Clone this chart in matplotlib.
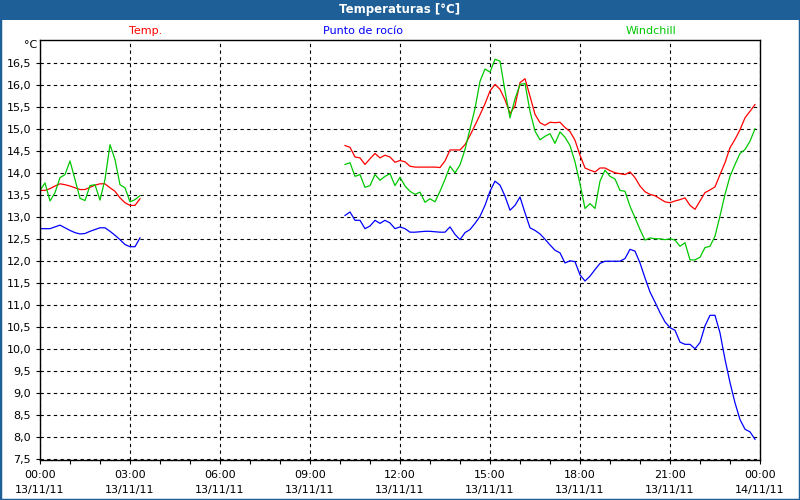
import numpy as np
import pandas as pd
import matplotlib
matplotlib.use('Agg')
import matplotlib.pyplot as plt
import matplotlib.dates as mdates
from matplotlib.patches import Rectangle
from matplotlib.ticker import FuncFormatter

# 10 minute readings, two recorded stretches
seg1_start = '2011-11-13 00:00'
seg2_start = '2011-11-13 10:10'

temp_1 = [13.60, 13.60, 13.64, 13.70, 13.75, 13.73, 13.70, 13.66, 13.62, 13.62, 13.67,
          13.72, 13.75, 13.75, 13.66, 13.58, 13.43, 13.32, 13.26, 13.26, 13.41]
dew_1 = [12.73, 12.73, 12.73, 12.77, 12.81, 12.75, 12.69, 12.64, 12.61, 12.62, 12.67,
         12.71, 12.75, 12.75, 12.67, 12.58, 12.48, 12.37, 12.32, 12.32, 12.52]
wind_1 = [13.60, 13.77, 13.36, 13.55, 13.89, 13.96, 14.27, 13.85, 13.42, 13.37, 13.71,
          13.73, 13.38, 13.85, 14.64, 14.30, 13.73, 13.66, 13.34, 13.39, 13.48]

temp_2 = [14.62, 14.58, 14.36, 14.34, 14.19, 14.32, 14.44, 14.34, 14.40, 14.36,
          14.24, 14.28, 14.25, 14.15, 14.13, 14.13, 14.13, 14.13, 14.13, 14.12,
          14.27, 14.52, 14.52, 14.52, 14.64, 14.85, 15.08, 15.32, 15.57, 15.86,
          16.01, 15.90, 15.66, 15.35, 15.52, 16.05, 16.14, 15.74, 15.33, 15.14,
          15.08, 15.15, 15.14, 15.15, 15.03, 14.94, 14.74, 14.40, 14.11, 14.06,
          14.02, 14.11, 14.11, 14.05, 14.00, 13.98, 13.96, 14.02, 13.89, 13.70,
          13.57, 13.51, 13.48, 13.41, 13.34, 13.32, 13.36, 13.39, 13.43, 13.26,
          13.17, 13.36, 13.55, 13.61, 13.68, 13.96, 14.23, 14.57, 14.76, 14.98,
          15.25, 15.40, 15.55]
wind_2 = [14.19, 14.23, 13.92, 13.96, 13.67, 13.71, 13.96, 13.83, 13.92, 13.98,
          13.71, 13.90, 13.70, 13.58, 13.51, 13.56, 13.33, 13.41, 13.34, 13.58,
          13.85, 14.15, 14.00, 14.18, 14.53, 15.00, 15.46, 16.08, 16.36, 16.29,
          16.58, 16.54, 15.86, 15.25, 15.68, 16.01, 16.03, 15.40, 14.95, 14.75,
          14.83, 14.89, 14.67, 14.93, 14.81, 14.62, 14.25, 13.75, 13.19, 13.30,
          13.19, 13.81, 14.06, 13.92, 13.86, 13.60, 13.58, 13.24, 12.98, 12.71,
          12.47, 12.52, 12.50, 12.50, 12.48, 12.50, 12.47, 12.33, 12.41, 12.02,
          12.02, 12.08, 12.30, 12.33, 12.56, 13.02, 13.51, 13.92, 14.19, 14.44,
          14.53, 14.72, 15.00]
dew_2 = [13.03, 13.11, 12.92, 12.92, 12.73, 12.79, 12.92, 12.85, 12.92, 12.86,
         12.73, 12.77, 12.73, 12.65, 12.65, 12.66, 12.67, 12.67, 12.66, 12.65,
         12.65, 12.77, 12.60, 12.48, 12.64, 12.71, 12.85, 13.01, 13.26, 13.58,
         13.81, 13.72, 13.47, 13.15, 13.26, 13.45, 13.09, 12.75, 12.69, 12.61,
         12.49, 12.36, 12.24, 12.18, 11.95, 12.00, 11.98, 11.68, 11.54, 11.65,
         11.80, 11.94, 11.99, 11.99, 11.99, 11.99, 12.05, 12.26, 12.22, 11.95,
         11.61, 11.29, 11.06, 10.82, 10.61, 10.48, 10.42, 10.15, 10.10, 10.10,
         10.00, 10.14, 10.52, 10.76, 10.76, 10.36, 9.76, 9.23, 8.77, 8.39,
         8.17, 8.11, 7.94]

y_ticks = [7.5, 8.0, 8.5, 9.0, 9.5, 10.0, 10.5, 11.0, 11.5, 12.0,
           12.5, 13.0, 13.5, 14.0, 14.5, 15.0, 15.5, 16.0, 16.5]

labels = ['Temp.', 'Punto de rocío', 'Windchill']
colors = ['#ff0000', '#0000ff', '#00c800']

t1 = pd.date_range(seg1_start, periods=len(temp_1), freq='10min')
t2 = pd.date_range(seg2_start, periods=len(temp_2), freq='10min')

fig = plt.figure(figsize=(8, 5), dpi=100)
ax = fig.add_axes([40 / 800, 40 / 500, 720 / 800, 420 / 500])

for seg_t, seg_vals in [(t1, [temp_1, dew_1, wind_1]), (t2, [temp_2, dew_2, wind_2])]:
    for vals, c in zip(seg_vals, colors):
        ax.plot(seg_t, vals, color=c, lw=0.9)

ax.set_xlim(pd.Timestamp('2011-11-13 00:00'), pd.Timestamp('2011-11-14 00:00'))
ax.set_ylim(7.47, 17.02)

ax.xaxis.set_major_locator(mdates.HourLocator(byhour=range(0, 24, 3)))
ax.xaxis.set_minor_locator(mdates.HourLocator())
ax.xaxis.set_major_formatter(mdates.DateFormatter('%H:%M\n%d/%m/%y'))
ax.set_yticks(y_ticks)
ax.yaxis.set_major_formatter(FuncFormatter(lambda v, p: f'{v:.1f}'.replace('.', ',')))

ax.grid(True, which='major', color='black', linestyle=(0, (3, 3)), lw=0.8)
ax.tick_params(axis='both', which='both', direction='out', length=3, width=0.8,
               labelsize=8, colors='black')
ax.tick_params(axis='x', which='major', pad=4)
for lbl in ax.get_xticklabels():
    lbl.set_linespacing(1.6)
for sp in ax.spines.values():
    sp.set_linewidth(1.0)

# header bar and frame
fig.patches.append(Rectangle((0, 480 / 500), 1, 20 / 500, transform=fig.transFigure,
                             facecolor='#1d5f96', edgecolor='none', zorder=0))
fig.patches.append(Rectangle((0, 0), 1, 1, transform=fig.transFigure,
                             facecolor='none', edgecolor='#1d5f96', lw=2.5))
fig.text(0.5, 490 / 500, 'Temperaturas [°C]', color='white', fontsize=8.5,
         fontweight='bold', ha='center', va='center')

for lab, c, xp in zip(labels, colors, [146, 363, 651]):
    fig.text(xp / 800, 469 / 500, lab, color=c, fontsize=8, ha='center', va='center')
fig.text(37 / 800, 455 / 500, '°C', color='black', fontsize=8, ha='right', va='center')

fig.savefig('out.png', dpi=100)
